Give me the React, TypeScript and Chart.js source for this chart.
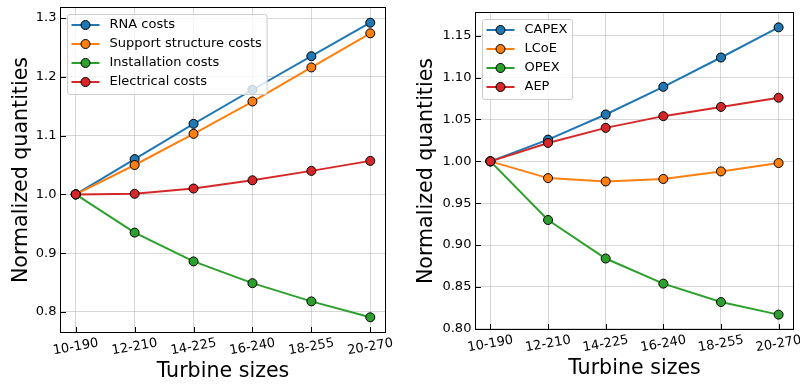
import React, { useEffect, useRef } from "react";
import { Chart, registerables } from "chart.js";

Chart.register(...registerables);

// ---- data ----
const sizes = ["10-190", "12-210", "14-225", "16-240", "18-255", "20-270"];

const rnaCosts = [1.0, 1.06, 1.12, 1.178, 1.235, 1.292];
const supportCosts = [1.0, 1.05, 1.103, 1.158, 1.216, 1.274];
const installationCosts = [1.0, 0.935, 0.886, 0.849, 0.818, 0.791];
const electricalCosts = [1.0, 1.001, 1.01, 1.024, 1.04, 1.057];

const capex = [1.0, 1.026, 1.056, 1.089, 1.124, 1.16];
const lcoe = [1.0, 0.98, 0.976, 0.979, 0.988, 0.998];
const opex = [1.0, 0.93, 0.884, 0.854, 0.832, 0.817];
const aep = [1.0, 1.022, 1.04, 1.054, 1.065, 1.076];

const leftNames = ["RNA costs", "Support structure costs", "Installation costs", "Electrical costs"];
const rightNames = ["CAPEX", "LCoE", "OPEX", "AEP"];

const leftYTicks = [0.8, 0.9, 1.0, 1.1, 1.2, 1.3];
const rightYTicks = [0.8, 0.85, 0.9, 0.95, 1.0, 1.05, 1.1, 1.15];

const xTitle = "Turbine sizes";
const yTitle = "Normalized quantities";

const colors = ["#1f77b4", "#ff7f0e", "#2ca02c", "#d62728"];

const FONT = '"DejaVu Sans", sans-serif';
const W = 400;
const H = 384;

type Plot = { left: number; top: number; right: number; bottom: number; ylabelX: number };

function makeChart(
  canvas: HTMLCanvasElement,
  names: string[],
  series: number[][],
  yTicks: number[],
  decimals: number,
  plot: Plot
) {
  const all = series.flat();
  const dmin = Math.min(...all);
  const dmax = Math.max(...all);
  const m = (dmax - dmin) * 0.05;
  const n = series.length;

  const datasets = series.map((vals, i) => ({
    label: names[i],
    data: vals.map((v, j) => ({ x: j, y: v })),
    borderColor: colors[i],
    backgroundColor: colors[i],
    borderWidth: 2,
    pointRadius: 4.5,
    pointHoverRadius: 4.5,
    pointBackgroundColor: colors[i],
    pointBorderColor: "#000000",
    pointBorderWidth: 1,
    tension: 0,
    clip: false as any,
    order: n - i,
  }));

  const mpl = {
    id: "mplAxes",
    afterDraw(chart: any) {
      const ctx: CanvasRenderingContext2D = chart.ctx;
      const { left, top, right, bottom } = chart.chartArea;
      const xs = chart.scales.x;
      const ys = chart.scales.y;
      ctx.save();

      // frame
      ctx.strokeStyle = "#000000";
      ctx.lineWidth = 1;
      ctx.strokeRect(Math.round(left) - 0.5, Math.round(top) - 0.5, Math.round(right - left) + 1, Math.round(bottom - top) + 1);

      // inward ticks
      ctx.beginPath();
      sizes.forEach((_, i) => {
        const px = Math.round(xs.getPixelForValue(i)) + 0.5;
        ctx.moveTo(px, bottom);
        ctx.lineTo(px, bottom - 5);
      });
      yTicks.forEach((v) => {
        const py = Math.round(ys.getPixelForValue(v)) + 0.5;
        ctx.moveTo(left, py);
        ctx.lineTo(left + 5, py);
      });
      ctx.stroke();

      // y tick labels
      ctx.fillStyle = "#000000";
      ctx.font = `13px ${FONT}`;
      ctx.textAlign = "right";
      ctx.textBaseline = "middle";
      yTicks.forEach((v) => {
        ctx.fillText(v.toFixed(decimals), left - 4.6, ys.getPixelForValue(v));
      });

      // x tick labels rotated 10deg, centered
      const rot = (10 * Math.PI) / 180;
      ctx.textAlign = "center";
      ctx.textBaseline = "middle";
      sizes.forEach((s, i) => {
        const w = ctx.measureText(s).width;
        const bh = w * Math.sin(rot) + 13 * Math.cos(rot);
        const cx = xs.getPixelForValue(i);
        const cy = bottom + 4.6 + bh / 2;
        ctx.save();
        ctx.translate(cx, cy);
        ctx.rotate(-rot);
        ctx.fillText(s, 0, 0);
        ctx.restore();
      });

      // axis titles
      ctx.font = `20.6px ${FONT}`;
      ctx.textAlign = "center";
      ctx.textBaseline = "alphabetic";
      ctx.fillText(xTitle, (left + right) / 2, bottom + 45);
      ctx.save();
      ctx.translate(plot.ylabelX, (top + bottom) / 2);
      ctx.rotate(-Math.PI / 2);
      ctx.fillText(yTitle, 0, 0);
      ctx.restore();

      // legend
      ctx.font = `13px ${FONT}`;
      let maxW = 0;
      names.forEach((nm) => (maxW = Math.max(maxW, ctx.measureText(nm).width)));
      const lx = left + 6.5;
      const ly = top + 6.5;
      const lw = 42 + maxW + 5.2;
      const lh = 10.5 + 19 * (names.length - 1) + 12.5;
      const r = 2.6;
      ctx.beginPath();
      ctx.moveTo(lx + r, ly);
      ctx.lineTo(lx + lw - r, ly);
      ctx.arcTo(lx + lw, ly, lx + lw, ly + r, r);
      ctx.lineTo(lx + lw, ly + lh - r);
      ctx.arcTo(lx + lw, ly + lh, lx + lw - r, ly + lh, r);
      ctx.lineTo(lx + r, ly + lh);
      ctx.arcTo(lx, ly + lh, lx, ly + lh - r, r);
      ctx.lineTo(lx, ly + r);
      ctx.arcTo(lx, ly, lx + r, ly, r);
      ctx.closePath();
      ctx.fillStyle = "rgba(255,255,255,0.8)";
      ctx.fill();
      ctx.strokeStyle = "#cccccc";
      ctx.lineWidth = 1;
      ctx.stroke();

      names.forEach((nm, i) => {
        const ry = ly + 10.5 + 19 * i;
        ctx.strokeStyle = colors[i];
        ctx.lineWidth = 2;
        ctx.beginPath();
        ctx.moveTo(lx + 4, ry);
        ctx.lineTo(lx + 32, ry);
        ctx.stroke();
        ctx.beginPath();
        ctx.arc(lx + 18, ry, 4.5, 0, Math.PI * 2);
        ctx.fillStyle = colors[i];
        ctx.fill();
        ctx.strokeStyle = "#000000";
        ctx.lineWidth = 1;
        ctx.stroke();
        ctx.fillStyle = "#000000";
        ctx.textAlign = "left";
        ctx.textBaseline = "middle";
        ctx.fillText(nm, lx + 42, ry);
      });

      ctx.restore();
    },
  };

  return new Chart(canvas, {
    type: "line",
    data: { datasets: datasets as any },
    options: {
      responsive: false,
      animation: false,
      devicePixelRatio: 1,
      events: [],
      layout: {
        padding: { left: plot.left, top: plot.top, right: W - plot.right, bottom: H - plot.bottom },
      },
      plugins: { legend: { display: false }, tooltip: { enabled: false } },
      scales: {
        x: {
          type: "linear",
          min: -0.25,
          max: sizes.length - 1 + 0.25,
          ticks: { display: false },
          border: { display: false },
          grid: { color: "rgba(176,176,176,0.5)", lineWidth: 1, drawTicks: false },
          afterBuildTicks: (axis: any) => {
            axis.ticks = sizes.map((_, i) => ({ value: i }));
          },
        },
        y: {
          type: "linear",
          min: dmin - m,
          max: dmax + m,
          ticks: { display: false },
          border: { display: false },
          grid: { color: "rgba(176,176,176,0.5)", lineWidth: 1, drawTicks: false },
          afterBuildTicks: (axis: any) => {
            axis.ticks = yTicks.map((v) => ({ value: v }));
          },
        },
      },
    } as any,
    plugins: [mpl],
  });
}

export default function App() {
  const leftRef = useRef<HTMLCanvasElement>(null);
  const rightRef = useRef<HTMLCanvasElement>(null);

  useEffect(() => {
    const c1 = makeChart(
      leftRef.current!,
      leftNames,
      [rnaCosts, supportCosts, installationCosts, electricalCosts],
      leftYTicks,
      1,
      { left: 61, top: 8, right: 385, bottom: 332, ylabelX: 27 }
    );
    const c2 = makeChart(
      rightRef.current!,
      rightNames,
      [capex, lcoe, opex, aep],
      rightYTicks,
      2,
      { left: 76, top: 13, right: 393, bottom: 329, ylabelX: 32 }
    );
    return () => {
      c1.destroy();
      c2.destroy();
    };
  }, []);

  return (
    <div style={{ position: "absolute", left: 0, top: 0, width: 800, height: 384, background: "#ffffff" }}>
      <canvas
        ref={leftRef}
        width={W}
        height={H}
        style={{ position: "absolute", left: 0, top: 0, width: W, height: H }}
      />
      <canvas
        ref={rightRef}
        width={W}
        height={H}
        style={{ position: "absolute", left: 400, top: 0, width: W, height: H }}
      />
    </div>
  );
}
